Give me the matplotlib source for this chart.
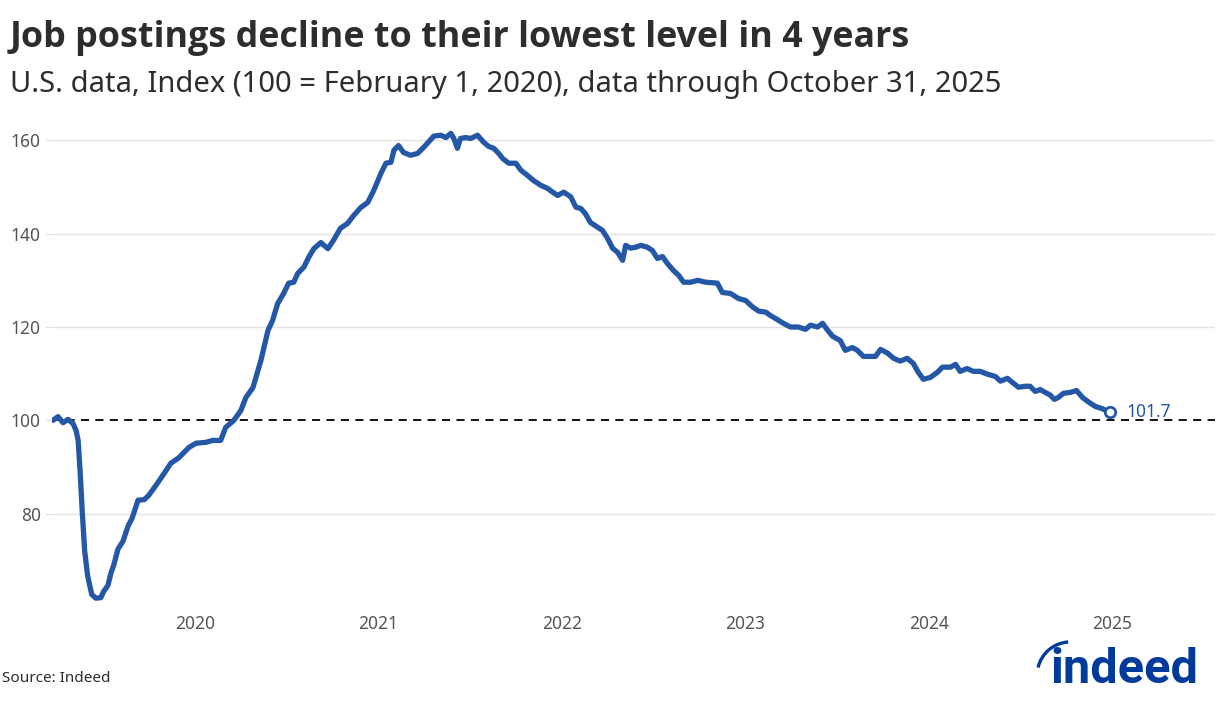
#!/usr/bin/env python3
"""Indeed job postings index, U.S., Feb 2020 - Oct 2025."""

import matplotlib
matplotlib.use("Agg")
import matplotlib.pyplot as plt
import pandas as pd
from matplotlib.patches import Arc

plt.rcParams["font.family"] = ["Noto Sans", "DejaVu Sans"]
BOLD_FONT = ["Open Sans", "Noto Sans", "DejaVu Sans"]
LOGO_FONT = ["Roboto", "DejaVu Sans"]

BLUE = "#2557A7"
LOGO_BLUE = "#003A9B"
GREY_TEXT = "#555555"

# Index values (100 = Feb 1, 2020)
dates = [
    "2020-02-01", "2020-02-11", "2020-02-21", "2020-03-02", "2020-03-12", "2020-03-18",
    "2020-03-22", "2020-03-26", "2020-03-30", "2020-04-04", "2020-04-10", "2020-04-18",
    "2020-04-26", "2020-05-06", "2020-05-12", "2020-05-20", "2020-05-26", "2020-06-01",
    "2020-06-09", "2020-06-19", "2020-06-29", "2020-07-07", "2020-07-19", "2020-07-31",
    "2020-08-09", "2020-08-23", "2020-09-06", "2020-09-22", "2020-10-08", "2020-10-28",
    "2020-11-11", "2020-12-01", "2020-12-14", "2020-12-30", "2021-01-09", "2021-01-25",
    "2021-02-08", "2021-02-18", "2021-03-04", "2021-03-20", "2021-04-03", "2021-04-12",
    "2021-04-22", "2021-05-04", "2021-05-14", "2021-05-24", "2021-06-01", "2021-06-13",
    "2021-06-23", "2021-07-03", "2021-07-17", "2021-07-23", "2021-07-31", "2021-08-11",
    "2021-08-25", "2021-09-08", "2021-09-20", "2021-10-04", "2021-10-18", "2021-10-30",
    "2021-11-13", "2021-11-23", "2021-12-03", "2021-12-09", "2021-12-18", "2021-12-28",
    "2022-01-11", "2022-01-25", "2022-02-06", "2022-02-26", "2022-03-12", "2022-03-22",
    "2022-04-01", "2022-04-07", "2022-04-14", "2022-04-20", "2022-04-30", "2022-05-10",
    "2022-05-24", "2022-06-05", "2022-06-15", "2022-06-25", "2022-07-05", "2022-07-13",
    "2022-07-25", "2022-08-08", "2022-08-18", "2022-08-31", "2022-09-12", "2022-09-26",
    "2022-10-10", "2022-10-20", "2022-10-30", "2022-11-11", "2022-11-25", "2022-12-05",
    "2022-12-15", "2022-12-24", "2023-01-03", "2023-01-17", "2023-01-27", "2023-02-06",
    "2023-02-16", "2023-02-26", "2023-03-08", "2023-03-14", "2023-03-24", "2023-04-03",
    "2023-04-13", "2023-04-26", "2023-05-06", "2023-05-16", "2023-05-26", "2023-06-05",
    "2023-06-17", "2023-06-27", "2023-07-07", "2023-07-21", "2023-08-04", "2023-08-20",
    "2023-09-12", "2023-09-22", "2023-10-08", "2023-10-24", "2023-11-07", "2023-11-21",
    "2023-12-03", "2023-12-17", "2023-12-26", "2024-01-09", "2024-01-21", "2024-02-04",
    "2024-02-20", "2024-03-05", "2024-03-15", "2024-03-29", "2024-04-08", "2024-04-18",
    "2024-04-28", "2024-05-13", "2024-05-23", "2024-06-06", "2024-06-16", "2024-06-28",
    "2024-07-12", "2024-07-22", "2024-08-01", "2024-08-15", "2024-08-27", "2024-09-09",
    "2024-09-23", "2024-10-05", "2024-10-15", "2024-10-25", "2024-11-08", "2024-11-22",
    "2024-12-02", "2024-12-18", "2024-12-28", "2025-01-06", "2025-01-20", "2025-02-01",
    "2025-02-15", "2025-03-01", "2025-03-17", "2025-03-27", "2025-04-10", "2025-04-20",
    "2025-05-02", "2025-05-15", "2025-05-25", "2025-06-04", "2025-06-14", "2025-06-24",
    "2025-07-04", "2025-07-12", "2025-07-20", "2025-07-30", "2025-08-13", "2025-08-25",
    "2025-09-06", "2025-09-17", "2025-10-01", "2025-10-15", "2025-10-31",
]
index_values = [
    100.0, 100.8, 99.5, 100.2, 99.3, 97.8,
    95.7, 89.0, 80.7, 72.0, 66.6, 62.7,
    61.9, 62.0, 63.4, 64.6, 67.2, 69.1,
    72.4, 74.1, 77.3, 79.0, 82.9, 83.0,
    83.9, 86.0, 88.2, 90.8, 92.0, 94.2,
    95.1, 95.3, 95.7, 95.7, 98.5, 100.0,
    102.1, 104.9, 107.0, 112.9, 119.3, 121.4,
    125.0, 127.2, 129.4, 129.6, 131.5, 132.8,
    135.0, 136.8, 138.1, 137.5, 136.8, 138.6,
    141.2, 142.2, 143.9, 145.6, 146.7, 149.3,
    152.9, 155.1, 155.3, 157.9, 158.9, 157.4,
    156.8, 157.2, 158.5, 160.9, 161.1, 160.6,
    161.5, 160.4, 158.3, 160.4, 160.6, 160.4,
    161.1, 159.6, 158.7, 158.3, 157.2, 156.1,
    155.1, 155.1, 153.6, 152.5, 151.4, 150.4,
    149.7, 148.9, 148.2, 148.9, 147.9, 145.7,
    145.4, 144.3, 142.4, 141.4, 140.7, 139.0,
    136.9, 136.0, 134.3, 137.5, 136.9, 137.1,
    137.5, 137.1, 136.4, 134.7, 135.1, 133.6,
    132.1, 131.1, 129.6, 129.6, 130.0, 129.6,
    129.4, 127.4, 127.2, 126.1, 125.7, 124.3,
    123.4, 123.2, 122.5, 121.6, 120.8, 120.0,
    120.0, 119.5, 120.4, 120.0, 120.8, 119.3,
    118.0, 117.1, 115.0, 115.6, 115.0, 113.7,
    113.7, 113.7, 115.2, 114.4, 113.3, 112.7,
    113.3, 112.2, 110.3, 108.8, 109.2, 110.3,
    111.4, 111.4, 112.0, 110.5, 111.1, 110.5,
    110.5, 109.9, 109.4, 108.4, 109.0, 108.1,
    107.1, 107.3, 107.3, 106.2, 106.6, 106.0,
    105.4, 104.5, 104.9, 105.8, 106.0, 106.4,
    104.9, 104.0, 103.0, 102.5, 101.7,
]

# the original places its year labels in early November
tick_dates = ["2020-11-09", "2021-11-07", "2022-11-07", "2023-11-07", "2024-11-06", "2025-11-04"]
tick_labels = ["2020", "2021", "2022", "2023", "2024", "2025"]
y_ticks = [80, 100, 120, 140, 160]


def main() -> None:
    x = pd.to_datetime(dates)
    fig = plt.figure(figsize=(12.28, 7.02), dpi=100)
    ax = fig.add_axes([0.0423, 0.1353, 0.9471, 0.698])

    for yv in y_ticks:
        if yv != 100:
            ax.axhline(yv, color="#e3e3e3", lw=1.0, zorder=1)
    ax.axhline(100, color="black", lw=1.3, ls=(0, (4.5, 3.5)), zorder=2)

    ax.plot(x, index_values, color=BLUE, lw=3.8, solid_capstyle="round",
            solid_joinstyle="round", zorder=3)
    ax.plot(x[-1], index_values[-1], "o", ms=7.5, mfc="white", mec=BLUE, mew=2.0, zorder=4)
    ax.annotate(f"{index_values[-1]:.1f}", (x[-1], index_values[-1]), xytext=(12, 0),
                textcoords="offset points", va="center", ha="left", color=BLUE,
                fontsize=12.5, fontweight="medium")

    ax.set_xlim(pd.Timestamp("2020-01-30"), pd.Timestamp("2026-05-27"))
    ax.set_ylim(60, 165)
    ax.set_yticks(y_ticks)
    ax.set_xticks(pd.to_datetime(tick_dates))
    ax.set_xticklabels(tick_labels)
    ax.tick_params(axis="y", length=5, color="#e3e3e3", labelsize=12.5, labelcolor=GREY_TEXT, pad=3)
    ax.tick_params(axis="x", length=0, labelsize=12.5, labelcolor=GREY_TEXT, pad=6)
    for spine in ax.spines.values():
        spine.set_visible(False)

    fig.text(0.008, 0.933, "Job postings decline to their lowest level in 4 years",
             fontsize=25.8, fontweight="bold", family=BOLD_FONT, color="#2d2d2d", va="baseline")
    fig.text(0.008, 0.869, "U.S. data, Index (100 = February 1, 2020), data through October 31, 2025",
             fontsize=21, color="#2d2d2d", va="baseline")
    fig.text(0.002, 0.033, "Source: Indeed", fontsize=11, color="#2d2d2d", va="center")

    # Indeed wordmark
    fig.text(0.9755, 0.027, "indeed", fontsize=35, fontweight="bold", family=LOGO_FONT,
             color=LOGO_BLUE, ha="right", va="baseline")
    fig.patches.append(Arc((0.8715, 0.0385), 0.0537, 0.094, theta1=92, theta2=158, lw=2.4,
                           color=LOGO_BLUE, transform=fig.transFigure, figure=fig))

    fig.savefig("out.png", dpi=100)
    plt.close(fig)


if __name__ == "__main__":
    main()
